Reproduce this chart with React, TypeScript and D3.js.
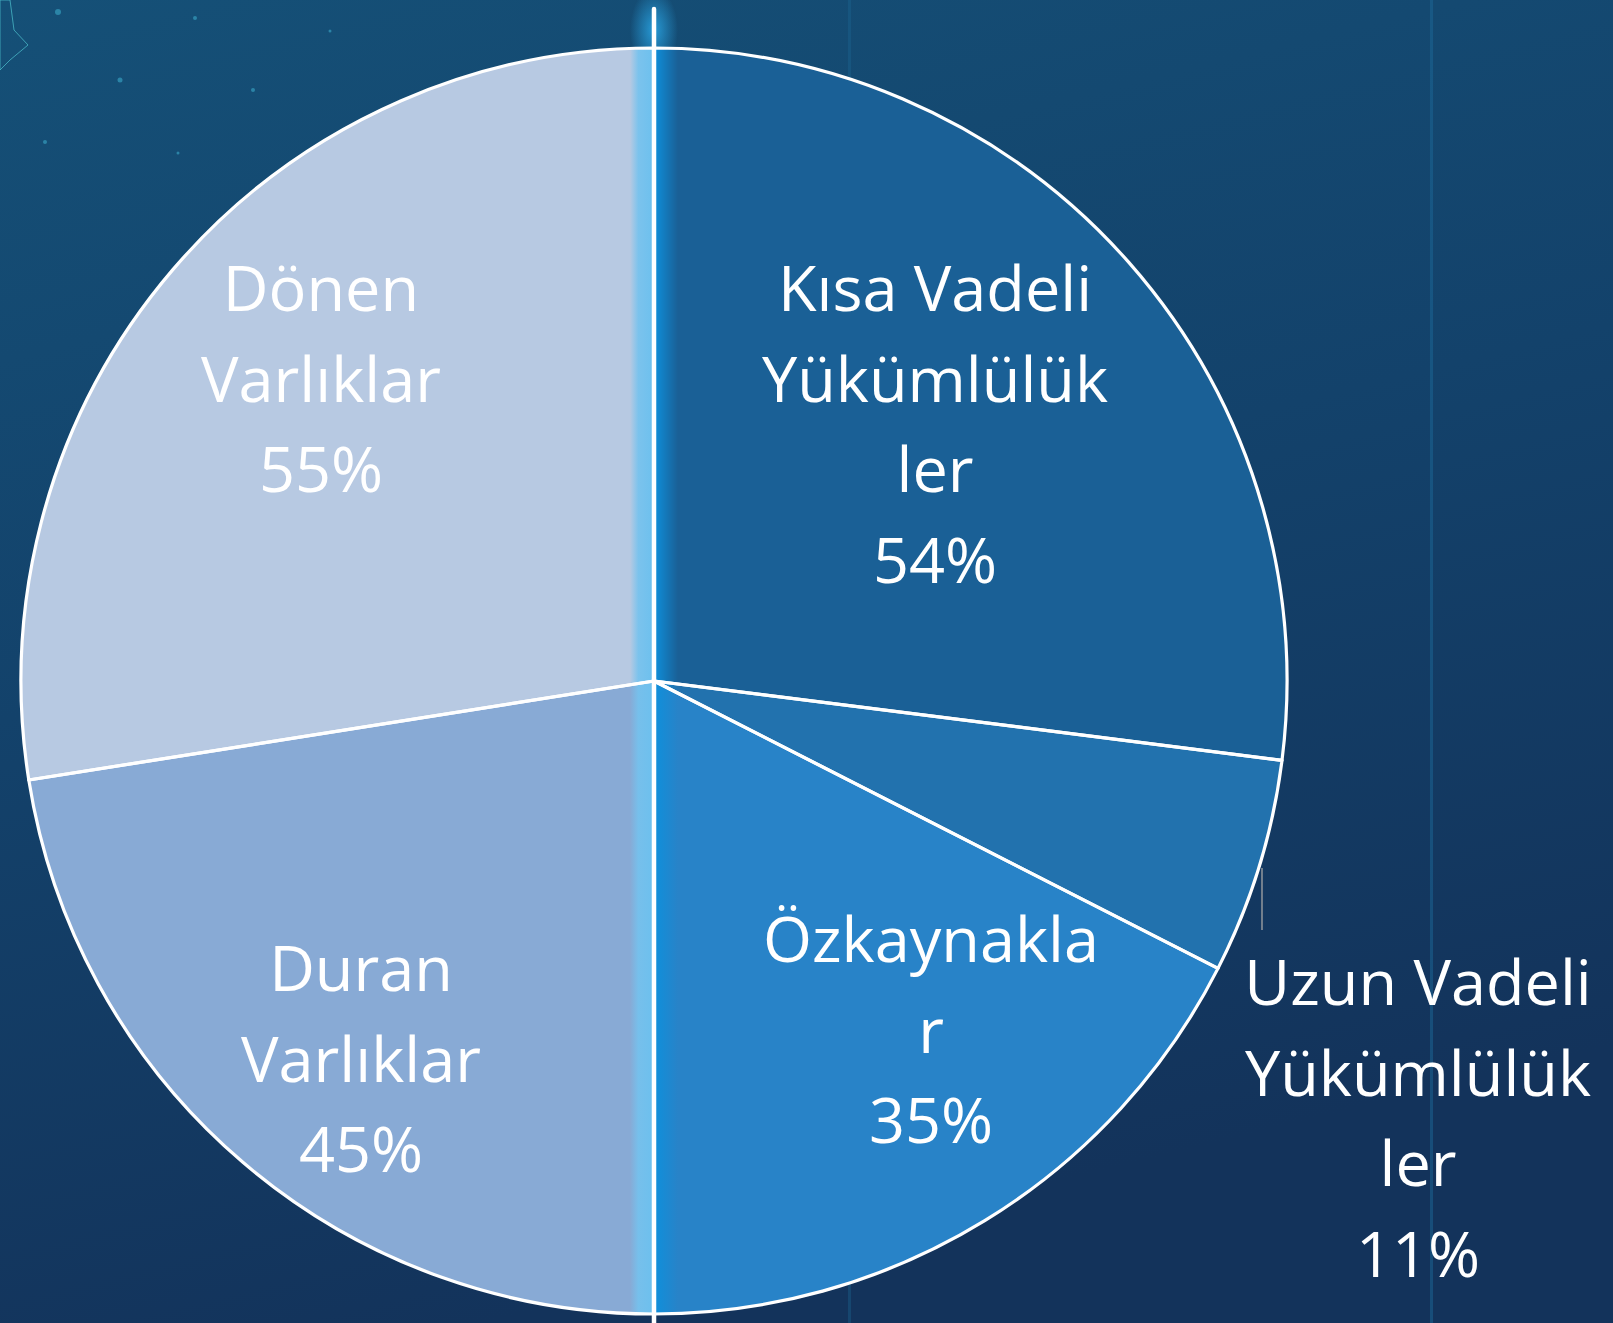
import React from "react";
import * as d3 from "d3";

const W = 1613;
const H = 1323;

// Left half: assets
const assetCategories = ["Dönen Varlıklar", "Duran Varlıklar"];
const assetValues = [55, 45];
const assetColors = ["#b7c9e2", "#88aad5"];
const assetLabelLines = [["Dönen", "Varlıklar", "55%"], ["Duran", "Varlıklar", "45%"]];

// Right half: liabilities & equity
const liabCategories = ["Kısa Vadeli Yükümlülükler", "Uzun Vadeli Yükümlülükler", "Özkaynaklar"];
const liabValues = [54, 11, 35];
const liabColors = ["#1a6096", "#2272ae", "#2883c8"];
const liabLabelLines = [
  ["Kısa Vadeli", "Yükümlülük", "ler", "54%"],
  ["Uzun Vadeli", "Yükümlülük", "ler", "11%"],
  ["Özkaynakla", "r", "35%"],
];

const cx = 654;
const cy = 681;
const R = 633;
const LINE_H = 90.5;
const FONT = "'Open Sans', sans-serif";
const FS = 63;

export default function App() {
  const arc = d3.arc<any>().innerRadius(0).outerRadius(R);
  const leftPie = d3
    .pie<number>()
    .sort(null)
    .startAngle(0)
    .endAngle(-Math.PI)(assetValues);
  const rightPie = d3
    .pie<number>()
    .sort(null)
    .startAngle(0)
    .endAngle(Math.PI)(liabValues);

  const leftLabelFirst = [
    [321, 311],
    [361, 991],
  ];
  const rightLabelFirst = [
    [935, 311],
    [1418, 1005],
    [931, 962],
  ];

  const renderLabel = (lines: string[], x: number, y0: number, key: string) => (
    <text
      key={key}
      x={x}
      y={y0}
      textAnchor="middle"
      fill="#ffffff"
      fontFamily={FONT}
      fontSize={FS}
    >
      {lines.map((l, i) => (
        <tspan key={i} x={x} y={y0 + i * LINE_H}>
          {l}
        </tspan>
      ))}
    </text>
  );

  const dots = [
    [58, 12, 3],
    [195, 18, 2],
    [120, 80, 2.5],
    [45, 142, 2],
    [330, 31, 1.5],
    [253, 90, 2],
    [178, 153, 1.5],
  ];

  return (
    <svg
      width={W}
      height={H}
      style={{ position: "absolute", left: 0, top: 0, display: "block" }}
    >
      <defs>
        <linearGradient id="bg" x1="0" y1="0" x2="0.3" y2="1">
          <stop offset="0" stopColor="#155077" />
          <stop offset="0.5" stopColor="#13426b" />
          <stop offset="1" stopColor="#13335b" />
        </linearGradient>
        <linearGradient id="glowL" x1="0" y1="0" x2="1" y2="0">
          <stop offset="0" stopColor="#74c2ee" stopOpacity="0" />
          <stop offset="0.35" stopColor="#74c2ee" stopOpacity="0.9" />
          <stop offset="1" stopColor="#6cc0ee" stopOpacity="1" />
        </linearGradient>
        <linearGradient id="glowR" x1="0" y1="0" x2="1" y2="0">
          <stop offset="0" stopColor="#0e90dc" stopOpacity="1" />
          <stop offset="1" stopColor="#0e90dc" stopOpacity="0" />
        </linearGradient>
        <radialGradient id="topGlow" cx="0.5" cy="0.5" r="0.5">
          <stop offset="0" stopColor="#2aa8e8" stopOpacity="0.85" />
          <stop offset="1" stopColor="#2aa8e8" stopOpacity="0" />
        </radialGradient>
        <clipPath id="circ">
          <circle cx={cx} cy={cy} r={R} />
        </clipPath>
      </defs>

      <rect x={0} y={0} width={W} height={H} fill="url(#bg)" />
      {/* faint background streaks */}
      <rect x={848} y={0} width={3} height={H} fill="#1d6a94" opacity={0.35} />
      <rect x={1430} y={0} width={3} height={H} fill="#1b6798" opacity={0.5} />
      {dots.map(([x, y, r], i) => (
        <circle key={i} cx={x} cy={y} r={r} fill="#3aa8c8" opacity={0.6} />
      ))}
      <path
        d="M0,0 L10,0 L14,30 L28,45 L10,60 L0,70 Z"
        fill="none"
        stroke="#4fc3d0"
        strokeWidth={1}
        opacity={0.7}
      />

      {/* top glow around the divider */}
      <ellipse cx={cx} cy={30} rx={24} ry={42} fill="url(#topGlow)" />

      <g transform={`translate(${cx},${cy})`}>
        {leftPie.map((d, i) => (
          <path key={"l" + i} d={arc(d) as string} fill={assetColors[i]} />
        ))}
        {rightPie.map((d, i) => (
          <path key={"r" + i} d={arc(d) as string} fill={liabColors[i]} />
        ))}
      </g>

      {/* center glow inside circle */}
      <g clipPath="url(#circ)">
        <rect x={cx - 24} y={0} width={24} height={H} fill="url(#glowL)" />
        <rect x={cx} y={0} width={24} height={H} fill="url(#glowR)" />
      </g>

      <g transform={`translate(${cx},${cy})`}>
        {leftPie.concat(rightPie as any).map((d, i) => (
          <path
            key={"s" + i}
            d={arc(d) as string}
            fill="none"
            stroke="#ffffff"
            strokeWidth={3.2}
            strokeLinejoin="round"
          />
        ))}
      </g>

      {/* divider line */}
      <line
        x1={cx}
        y1={9}
        x2={cx}
        y2={H + 5}
        stroke="#ffffff"
        strokeWidth={4.5}
        strokeLinecap="round"
      />

      {/* leader line for small slice */}
      <line x1={1262} y1={868} x2={1262} y2={930} stroke="#a6a6a6" strokeWidth={1.3} />

      {assetLabelLines.map((lines, i) =>
        renderLabel(lines, leftLabelFirst[i][0], leftLabelFirst[i][1], "al" + i)
      )}
      {liabLabelLines.map((lines, i) =>
        renderLabel(lines, rightLabelFirst[i][0], rightLabelFirst[i][1], "rl" + i)
      )}
      <title>{assetCategories.concat(liabCategories).join(", ")}</title>
    </svg>
  );
}
